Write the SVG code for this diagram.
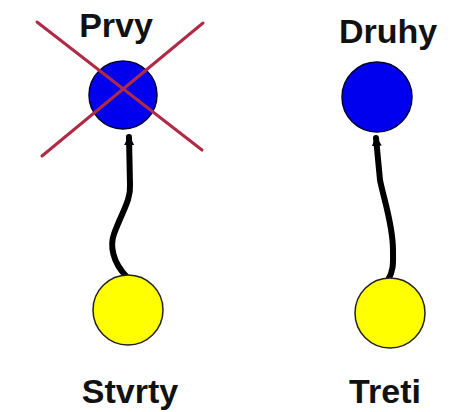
<svg xmlns="http://www.w3.org/2000/svg" width="450" height="412" viewBox="0 0 450 412">
<style>
.lbl{font-family:"Liberation Sans",Arial,sans-serif;font-weight:bold;font-size:34px;fill:#111;text-anchor:middle}
.blue{fill:#0000ee;stroke:#000033;stroke-width:1.5}
.yellow{fill:#ffff00;stroke:#222;stroke-width:1.5}
.edge{fill:none;stroke:#000;stroke-width:6;stroke-linecap:round;stroke-linejoin:round}
.cross{stroke:#b02a45;stroke-width:3;stroke-linecap:round}
</style>
<defs>
<marker id="arr" markerWidth="12" markerHeight="12" refX="8" refY="6" orient="auto" markerUnits="userSpaceOnUse">
<path d="M0,1 L10,6 L0,11 Z" fill="#000"/>
</marker>
</defs>
<rect width="450" height="412" fill="#fff"/>
<g id="connectors">
<path class="edge" d="M127,277 C112,262 110,245 114,234 C122,212 131,200 130,185 L129,137" marker-end="url(#arr)"/>
<path class="edge" d="M388,280 C394,270 393,262 393,250 C393,225 384,200 380,180 L376,138" marker-end="url(#arr)"/>
</g>
<g id="prvy">
<circle class="blue" cx="123" cy="95" r="34"/>
<text class="lbl" x="116" y="37">Prvy</text>
</g>
<g id="cross">
<line class="cross" x1="37" y1="22" x2="202" y2="150"/>
<line class="cross" x1="203" y1="23" x2="42" y2="156"/>
</g>
<g id="druhy">
<circle class="blue" cx="377" cy="97" r="35"/>
<text class="lbl" x="388" y="43">Druhy</text>
</g>
<g id="stvrty">
<circle class="yellow" cx="128" cy="310" r="35"/>
<text class="lbl" x="130" y="403">Stvrty</text>
</g>
<g id="treti">
<circle class="yellow" cx="390" cy="313" r="35"/>
<text class="lbl" x="385" y="403">Treti</text>
</g>
</svg>
